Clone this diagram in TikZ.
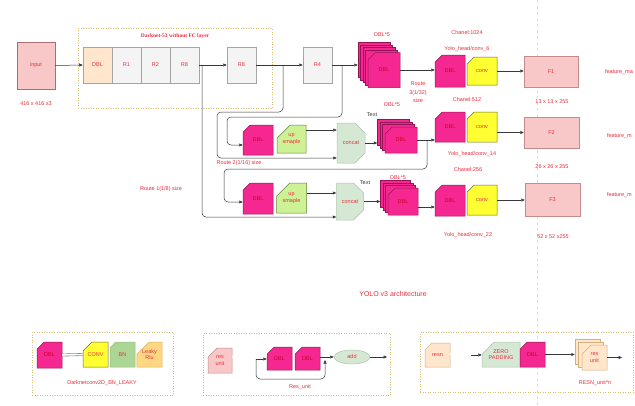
\documentclass[tikz,border=0pt]{standalone}
\usepackage{fontspec}
\setmainfont{Liberation Sans}
\newfontfamily\titlefont{Liberation Serif}
\usetikzlibrary{arrows.meta,shapes.misc,shapes.geometric,shadows,calc}
\definecolor{tred}{RGB}{235,45,60}
\definecolor{dred}{RGB}{205,0,35}
\definecolor{mag}{RGB}{245,40,145}
\definecolor{magd}{RGB}{150,20,85}
\definecolor{yel}{RGB}{255,255,50}
\definecolor{yeld}{RGB}{110,110,40}
\definecolor{upg}{RGB}{205,242,150}
\definecolor{upgd}{RGB}{100,130,60}
\definecolor{cat}{RGB}{213,232,212}
\definecolor{catd}{RGB}{175,195,172}
\definecolor{rgray}{RGB}{244,244,244}
\definecolor{rgrayd}{RGB}{165,165,165}
\definecolor{peach}{RGB}{255,230,204}
\definecolor{peachd}{RGB}{215,175,120}
\definecolor{pinkf}{RGB}{248,200,200}
\definecolor{pinkd}{RGB}{195,140,138}
\definecolor{bnf}{RGB}{172,214,150}
\definecolor{bnd}{RGB}{150,190,130}
\definecolor{lkf}{RGB}{255,215,130}
\definecolor{lkd}{RGB}{215,180,100}
\definecolor{frm}{RGB}{214,190,110}
\definecolor{ln}{RGB}{55,55,55}
\begin{document}
\begin{tikzpicture}[x=1pt,y=-1pt,
  font=\fontsize{5.5}{6.5}\selectfont, text=tred,
  base/.style={inner sep=0pt, align=center, line width=0.5pt},
  rbox/.style={base, rectangle, draw=rgrayd, fill=rgray, minimum width=29pt, minimum height=36pt},
  pbox/.style={base, rectangle, draw=pinkd, fill=pinkf,
     drop shadow={shadow xshift=1.2pt, shadow yshift=-1.2pt, opacity=0.3}},
  card/.style={base, chamfered rectangle, chamfered rectangle corners=north west,
     chamfered rectangle xsep=8pt, chamfered rectangle ysep=8pt},
  dblc/.style={card, draw=magd, fill=mag, text=dred},
  convc/.style={card, draw=yeld, fill=yel},
  upc/.style={card, draw=upgd, fill=upg},
  catc/.style={base, chamfered rectangle, chamfered rectangle corners={north east,south east},
     chamfered rectangle xsep=6pt, chamfered rectangle ysep=9pt, draw=catd, fill=cat},
  frame/.style={base, rectangle, draw=frm, dotted, line width=0.8pt},
  conn/.style={draw=ln, line width=0.5pt},
  arr/.style={conn, -{Triangle[length=3.5pt,width=3pt]}},
  eq/.style={draw=gray, line width=0.6pt, double=white, double distance=1.6pt},
  fmap/.style={anchor=west, inner sep=0pt, outer sep=0pt},
  dark/.style={text=ln}]
\useasboundingbox[fill=white] (0,0) rectangle (635,405);
% faint guide
\draw[draw={rgb,255:red,228;green,218;blue,218}, dashed, line width=0.5pt] (537,0) -- (537,405);

% Darknet frame
\node[frame, minimum width=194pt, minimum height=80pt] (dk) at (175,68) {};
\node[font=\titlefont\bfseries\fontsize{5.5}{6.5}\selectfont] (dkt) at (175,36) {Darknet-53 without FC layer};

% input
\node[pbox, draw={rgb,255:red,170;green,110;blue,110}, minimum width=38pt, minimum height=47pt] (in) at (36,65.5) {input};
\node (inl) at (36,104) {416 x 416 x3};

% backbone strip
\node[rbox, fill=peach] (d0) at (97.5,65) {DBL};
\node[rbox] (r1) at (126.5,65) {R1};
\node[rbox] (r2) at (155.5,65) {R2};
\node[rbox] (r8a) at (184.5,65) {R8};
\node[rbox] (r8b) at (241.5,65) {R8};
\node[rbox] (r4) at (317.5,65) {R4};

% row 1
\foreach \k in {4,3,2,1}
  \node[dblc, minimum width=32pt, minimum height=35pt] (s1-\k) at ({384-2.5*\k},{70-2.5*\k}) {};
\node[dblc, minimum width=32pt, minimum height=35pt] (s1) at (384,70) {DBL};
\node (s1l) at (382,35) {DBL*5};
\node[dblc, minimum width=30pt, minimum height=32pt] (h1) at (450,71) {DBL};
\node[convc, minimum width=30pt, minimum height=28pt] (c1) at (482,71) {conv};
\node[pbox, minimum width=54pt, minimum height=31pt] (f1) at (551,71.5) {F1};
\node (ch1) at (467,33) {Chanel:1024};
\node (yh1) at (467,49) {Yolo\_head/conv\_6};
\node (sz1) at (552,102) {13 x 13 x 255};
\node[fmap] (fm1) at (605,72) {feature\_ma};
\node[align=center, font=\fontsize{5.5}{8.5}\selectfont] (rt3) at (418,92.5) {Route\\3(1/32)\\size};

% row 2
\node[dblc, minimum width=30pt, minimum height=30pt] (d2) at (258,140) {DBL};
\node[upc, minimum width=29pt, minimum height=28pt] (u2) at (291.5,139) {up\\smaple};
\node[catc, minimum width=28pt, minimum height=40pt] (cc2) at (351,143) {concat};
\node[dark] (tx2) at (372,115) {Text};
\foreach \k in {3,2,1}
  \node[dblc, minimum width=32pt, minimum height=26pt] (s2-\k) at ({401-2.5*\k},{140-2.5*\k}) {};
\node[dblc, minimum width=32pt, minimum height=26pt] (s2) at (401,140) {DBL};
\node (s2l) at (392,105) {DBL*5};
\node[dblc, minimum width=30pt, minimum height=30pt] (h2) at (450,127) {DBL};
\node[convc, minimum width=30pt, minimum height=30pt] (c2) at (482,127) {conv};
\node[pbox, minimum width=55pt, minimum height=31pt] (f2) at (551.5,132.5) {F2};
\node (ch2) at (467,100) {Chanel:512};
\node (yh2) at (472,154) {Yolo\_head/conv\_14};
\node (ch3) at (468,170) {Chanel:256};
\node (sz2) at (552,167) {26 x 26 x 255};
\node[fmap] (fm2) at (607,136) {feature\_m};
\node (rt2) at (239,163) {Route 2(1/16) size};

% row 3
\node[dblc, minimum width=30pt, minimum height=31pt] (d3) at (258,198.5) {DBL};
\node[upc, minimum width=30pt, minimum height=30pt] (u3) at (291.5,198) {up\\smaple};
\node[catc, minimum width=27pt, minimum height=37pt] (cc3) at (350,201.5) {concat};
\node[dark] (tx3) at (365,183) {Text};
\foreach \k in {3,2,1}
  \node[dblc, minimum width=30pt, minimum height=27pt] (s3-\k) at ({403-2.5*\k},{201.5-2.5*\k}) {};
\node[dblc, minimum width=30pt, minimum height=27pt] (s3) at (403,201.5) {DBL};
\node (s3l) at (398,178) {DBL*5};
\node[dblc, minimum width=30pt, minimum height=31pt] (h3) at (450,200.5) {DBL};
\node[convc, minimum width=30pt, minimum height=30pt] (c3) at (482,200) {conv};
\node[pbox, minimum width=55pt, minimum height=33pt] (f3) at (552.5,199.5) {F3};
\node (yh3) at (468,235) {Yolo\_head/conv\_22};
\node (sz3) at (553,237) {52 x 52 x255};
\node[fmap] (fm3) at (607,195) {feature\_m};
\node (rt1) at (161,189) {Route 1(1/8) size};

\node[font=\fontsize{7}{8}\selectfont] (ttl) at (393,294) {YOLO v3 architecture};

% main connectors
\draw[arr] (in.east) -- (d0.west);
\draw[arr] (r8a.east) -- (r8b.west);
\draw[arr] (r8b.east) -- (r4.west);
\draw[arr] (r4.east) -- (r4.east -| s1-4.west);
\draw[arr] (s1.east) -- (s1.east -| h1.west);
\draw[arr] (c1.east) -- (c1.east -| f1.west);
\draw[arr] (c2.east |- f2.west) -- (f2.west);
\draw[arr] (c3.east) -- (c3.east -| f3.west);
\draw[arr] (s2.east) -- (s2.east -| h2.west);
\coordinate (s3o) at (418,207);
\draw[arr] (s3o) -- (s3o -| h3.west);

% row 2/3 internal
\coordinate (u2o) at (306,130);
\draw[arr] (u2o) -- (u2o -| cc2.west);
\draw[arr] (cc2.east) -- (cc2.east -| s2-3.west);
\coordinate (u3o) at (307,193);
\draw[arr] (u3o) -- (u3o -| cc3.west);
\draw[arr] (cc3.east) -- (cc3.east -| s3-3.west);

% routes
\coordinate (b8) at (283,65);
\coordinate (k8) at (217,112);
\coordinate (e8) at (0,158);
\draw[arr, rounded corners=4pt] (b8) |- (k8) |- (e8 -| cc2.west);
\coordinate (b4) at (342,65);
\coordinate (k4) at (227,117);
\coordinate (e4) at (0,145);
\draw[arr, rounded corners=4pt] (b4) |- (k4) |- (e4 -| d2.west);
\coordinate (b2) at (427,140);
\coordinate (k2) at (224,169);
\coordinate (e2) at (0,202);
\draw[arr, rounded corners=4pt] (b2) |- (k2) |- (e2 -| d3.west);
\coordinate (b1) at (202,65);
\coordinate (e1) at (0,217);
\draw[arr, rounded corners=4pt] (b1) |- (e1 -| cc3.west);

% legend 1
\node[frame, minimum width=141pt, minimum height=63pt] (lf1) at (102.5,363.5) {};
\node[dblc, minimum width=25pt, minimum height=26pt, chamfered rectangle xsep=7pt, chamfered rectangle ysep=7pt] (l1d) at (49.5,355) {DBL};
\node[convc, minimum width=25pt, minimum height=25pt, chamfered rectangle xsep=7pt, chamfered rectangle ysep=7pt] (l1c) at (95.5,354.5) {CONV};
\node[card, draw=bnd, fill=bnf, minimum width=25pt, minimum height=25pt, chamfered rectangle xsep=7pt, chamfered rectangle ysep=7pt] (l1b) at (122.5,354.5) {BN};
\node[card, draw=lkd, fill=lkf, minimum width=25pt, minimum height=25pt, chamfered rectangle xsep=7pt, chamfered rectangle ysep=7pt] (l1l) at (149.5,354.5) {Leaky\\Rlu};
\draw[eq] (l1d.east) -- (l1c.west);
\node (l1t) at (102,383) {Darknetconv2D\_BN\_LEAKY};

% legend 2
\node[frame, minimum width=187pt, minimum height=62pt] (lf2) at (296.5,364) {};
\node[card, draw=pinkd, fill=pinkf, minimum width=24pt, minimum height=25pt, chamfered rectangle xsep=7pt, chamfered rectangle ysep=7pt] (l2r) at (220,360.5) {res\\unit};
\node[dblc, minimum width=25pt, minimum height=23pt, chamfered rectangle xsep=7pt, chamfered rectangle ysep=7pt] (l2d1) at (279.5,358.5) {DBL};
\node[dblc, minimum width=25pt, minimum height=23pt, chamfered rectangle xsep=7pt, chamfered rectangle ysep=7pt] (l2d2) at (307.5,358.5) {DBL};
\node[base, ellipse, draw=catd, fill=cat, minimum width=36pt, minimum height=14pt] (l2a) at (352,357) {add};
\coordinate (l2eq) at (252,357);
\draw[eq] (l2r.east |- l2eq) -- (l2eq);
\coordinate (l2s) at (256,359);
\draw[arr] (l2s) -- (l2s -| l2d1.west);
\draw[arr] (l2d2.east |- l2a.west) -- (l2a.west);
\coordinate (l2j) at (325,360);
\coordinate (l2b) at (0,379);
\draw[arr, rounded corners=4pt] (l2s) |- (l2b -| l2j) -- (l2j);
\coordinate (l2o) at (387,357);
\draw[arr] (l2a.east) -- (l2o);
\node (l2t) at (300,387) {Res\_unit};

% legend 3
\node[frame, minimum width=213pt, minimum height=60pt] (lf3) at (526.5,362) {};
\node[card, draw=peachd, fill=peach, minimum width=25pt, minimum height=24pt, chamfered rectangle xsep=7pt, chamfered rectangle ysep=7pt] (l3r) at (437.5,355) {resn};
\node[card, draw=catd, fill=cat, minimum width=38pt, minimum height=25pt, chamfered rectangle xsep=7pt, chamfered rectangle ysep=7pt] (l3z) at (501,354.5) {ZERO\\PADDING};
\node[dblc, minimum width=25pt, minimum height=25pt, chamfered rectangle xsep=7pt, chamfered rectangle ysep=7pt] (l3d) at (532.5,354.5) {DBL};
\foreach \k in {2,1}
  \node[card, draw=peachd, fill=peach, minimum width=25pt, minimum height=25pt, chamfered rectangle xsep=7pt, chamfered rectangle ysep=7pt] (l3s-\k) at ({594.5-3.5*\k},{357.5-3*\k}) {};
\node[card, draw=peachd, fill=peach, minimum width=25pt, minimum height=25pt, chamfered rectangle xsep=7pt, chamfered rectangle ysep=7pt] (l3s) at (594.5,357.5) {res\\unit};
\coordinate (l3eq) at (469,354);
\draw[eq] (l3r.east |- l3eq) -- (l3eq);
\coordinate (l3i) at (471,355);
\draw[arr] (l3i) -- (l3i -| l3z.west);
\draw[arr] (l3d.east) -- (l3d.east -| l3s-2.west);
\coordinate (l3o) at (622,357.5);
\draw[arr] (l3s.east) -- (l3o);
\node (l3t) at (595,383) {RESN\_unit*n};
\end{tikzpicture}
\end{document}
